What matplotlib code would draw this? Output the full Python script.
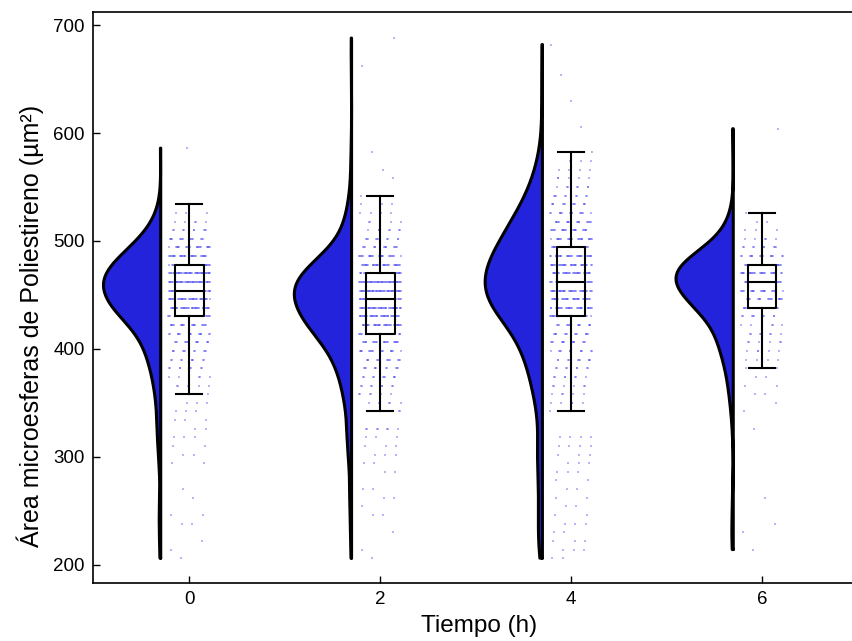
import numpy as np
import matplotlib
matplotlib.use("Agg")
import matplotlib.pyplot as plt

plt.rcParams['font.family'] = ['Liberation Sans', 'DejaVu Sans']

# time points (h)
tiempos = [0, 2, 4, 6]

vals_0 = [206, 214, 222, 238, 246, 262, 270, 294, 302, 310, 318, 326, 334, 342, 350,
          358, 366, 374, 382, 390, 398, 406, 414, 422, 430, 438, 446, 454, 462, 470,
          478, 486, 494, 502, 510, 518, 526, 534, 586]
cnt_0 = [1, 1, 1, 2, 2, 1, 1, 2, 2, 2, 3, 2, 3, 3, 3,
         4, 5, 6, 8, 9, 11, 14, 16, 20, 32, 38, 40, 44, 46, 44,
         38, 30, 22, 15, 9, 5, 3, 1, 1]

vals_2 = [206, 214, 230, 246, 254, 262, 270, 286, 294, 302, 310, 318, 326,
          342, 350, 358, 366, 374, 382, 390, 398, 406, 414, 422, 430, 438, 446,
          454, 462, 470, 478, 486, 494, 502, 510, 518, 526, 534, 542, 558, 566,
          582, 662, 688]
cnt_2 = [1, 1, 1, 2, 1, 2, 2, 2, 2, 3, 3, 3, 7,
         5, 6, 6, 8, 10, 11, 14, 18, 22, 30, 36, 40, 44, 46,
         48, 48, 42, 32, 24, 14, 10, 7, 5, 4, 3, 2, 1, 1,
         1, 1, 1]

vals_4 = [206, 214, 222, 230, 238, 246, 254, 262, 270, 278, 286, 294, 302, 310, 318,
          342, 350, 358, 366, 374, 382, 390, 398, 406, 414, 422, 430, 438, 446, 454,
          462, 470, 478, 486, 494, 502, 510, 518, 526, 534, 542, 550, 558, 566, 574,
          582, 606, 630, 654, 682]
cnt_4 = [2, 3, 3, 2, 3, 2, 2, 2, 2, 2, 3, 3, 3, 4, 4,
         4, 5, 5, 6, 7, 8, 10, 12, 14, 14, 14, 32, 31, 34, 36,
         36, 35, 33, 30, 27, 24, 21, 18, 15, 12, 9, 7, 5, 4, 3,
         2, 1, 1, 1, 1]

vals_6 = [214, 230, 238, 262, 326, 342, 350, 358, 366, 374, 382, 390, 398, 406,
          414, 422, 430, 438, 446, 454, 462, 470, 478, 486, 494, 502, 510, 518,
          526, 604]
cnt_6 = [1, 1, 1, 1, 1, 1, 1, 2, 2, 2, 3, 4, 5, 6,
         7, 7, 9, 16, 19, 21, 24, 27, 25, 16, 9, 5, 3, 2,
         1, 1]

grupos = [np.repeat(vals_0, cnt_0), np.repeat(vals_2, cnt_2),
          np.repeat(vals_4, cnt_4), np.repeat(vals_6, cnt_6)]

color_nube = '#2323dc'
color_puntos = '#3030f0'


def kde(datos, malla):
    # gaussian kde, scott bandwidth (same as seaborn's default)
    n = len(datos)
    bw = datos.std(ddof=1) * n ** (-1.0 / 5)
    z = (malla[:, None] - datos[None, :]) / bw
    return np.exp(-0.5 * z ** 2).sum(axis=1) / (n * bw * np.sqrt(2 * np.pi))


fig = plt.figure(figsize=(8.53, 6.41), dpi=100)
ax = fig.add_axes([0.109, 0.0905, 0.905, 0.8905])

for t, datos in zip(tiempos, grupos):
    # half violin (cloud) to the left
    malla = np.linspace(datos.min(), datos.max(), 400)
    dens = kde(datos, malla)
    ancho = dens / dens.max() * 0.6
    borde = t - 0.3
    ax.fill_betweenx(malla, borde - ancho, borde, color=color_nube, lw=0, zorder=1)
    xs = np.concatenate([[borde], borde - ancho, [borde, borde]])
    ys = np.concatenate([[malla[0]], malla, [malla[-1], malla[0]]])
    ax.plot(xs, ys, color='black', lw=2.2, zorder=2, solid_joinstyle='round',
            solid_capstyle='round')

    # rain: dots spread across the strip
    orden = np.sort(datos)
    desp = ((np.arange(len(datos)) * 0.7548776662 + 0.3) % 1.0 - 0.5) * 0.44
    ax.scatter(t + desp, orden, s=2.5, marker='s', color=color_puntos, alpha=0.35,
               linewidths=0, zorder=3)

ax.boxplot(grupos, positions=tiempos, widths=0.3, showfliers=False,
           patch_artist=False, manage_ticks=False, whis=1.5,
           boxprops=dict(color='black', lw=1.5),
           whiskerprops=dict(color='black', lw=1.5),
           capprops=dict(color='black', lw=1.5),
           medianprops=dict(color='black', lw=1.5),
           capwidths=0.27, zorder=4)

ax.set_xlim(-1.01, 7.08)
ax.set_ylim(183, 712)
ax.set_xticks(tiempos)
ax.set_yticks([200, 300, 400, 500, 600, 700])
ax.tick_params(direction='in', length=5, width=1, labelsize=13.5, pad=6,
               colors='black')
for s in ax.spines.values():
    s.set_linewidth(1.2)

ax.set_xlabel('Tiempo (h)', fontsize=17.5, labelpad=5)
ax.set_ylabel('Área microesferas de Poliestireno (µm²)', fontsize=18)
ax.yaxis.set_label_coords(-0.064, 0.45)

fig.savefig('out.png', dpi=100)
